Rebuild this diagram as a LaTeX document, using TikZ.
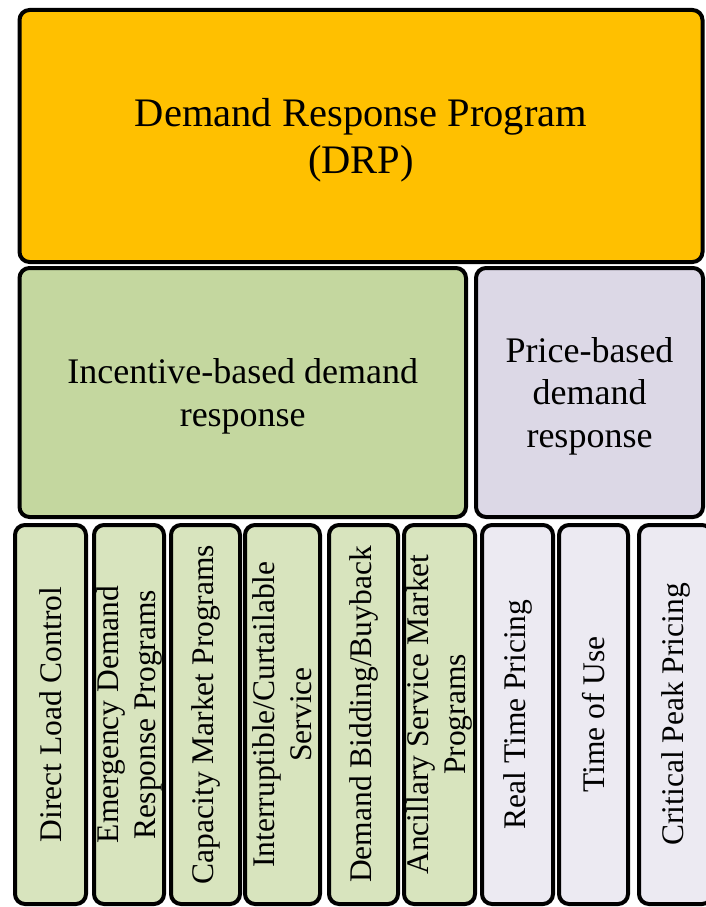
\documentclass[tikz,border=0pt]{standalone}
\usepackage{fontspec}
\setmainfont{Liberation Serif}
\definecolor{drpc}{HTML}{FFC000}
\definecolor{incc}{HTML}{C4D79F}
\definecolor{pricec}{HTML}{DCD8E6}
\definecolor{incsub}{HTML}{D8E4BE}
\definecolor{pricesub}{HTML}{ECEAF2}
\begin{document}
\begin{tikzpicture}[x=1pt,y=-1pt,
  box/.style={draw=black, line width=4pt, rounded corners=10pt, inner sep=0pt, outer sep=0pt, align=center},
  topbox/.style={box, fill=drpc, text depth=0pt, font=\fontsize{40.5}{47.5}\selectfont},
  midbox/.style={box, text depth=0pt, font=\fontsize{36}{42.5}\selectfont},
  subbox/.style={box, rotate=90, minimum width=379pt, font=\fontsize{31.5}{37}\selectfont},
  incbox/.style={subbox, fill=incsub},
  pricebox/.style={subbox, fill=pricesub}]
\useasboundingbox (0,0) rectangle (706,907);
\clip (0,0) rectangle (706,907);
\node[topbox, minimum width=683pt, minimum height=252pt] (drp) at (361,136) {Demand Response Program\\(DRP)};
\node[midbox, fill=incc, minimum width=446.5pt, minimum height=249pt] (inc) at (242.75,392.5) {Incentive-based demand\\response};
\node[midbox, fill=pricec, minimum width=227pt, minimum height=249pt] (price) at (589.5,392.5) {Price-based\\demand\\response};
\node[incbox, minimum height=71pt] (dlc) at (50.5,714.5) {Direct Load Control};
\node[incbox, minimum height=70pt] (edrp) at (129,714.5) {Emergency Demand\\Response Programs};
\node[incbox, minimum height=69pt] (cap) at (205.5,714.5) {Capacity Market Programs};
\node[incbox, minimum height=75pt] (int) at (282.5,714.5) {Interruptible/Curtailable\\Service};
\node[incbox, minimum height=69pt] (dbb) at (363.5,714.5) {Demand Bidding/Buyback};
\node[incbox, minimum height=71pt] (anc) at (439.5,714.5) {Ancillary Service Market\\Programs};
\node[pricebox, minimum height=71pt] (rtp) at (517.5,714.5) {Real Time Pricing};
\node[pricebox, minimum height=69pt] (tou) at (593.5,714.5) {Time of Use};
\node[pricebox, minimum height=73pt] (cpp) at (675.5,714.5) {Critical Peak Pricing};
\end{tikzpicture}
\end{document}
